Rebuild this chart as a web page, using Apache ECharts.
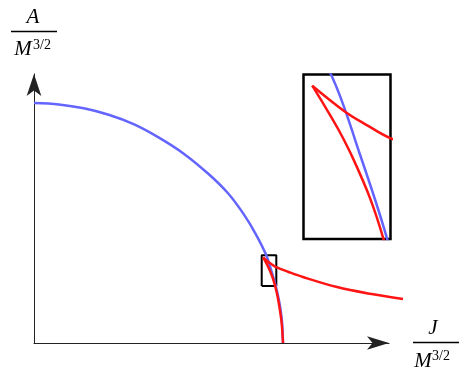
<!DOCTYPE html>
<html>
<head>
<meta charset="utf-8">
<script src="https://cdn.jsdelivr.net/npm/echarts@6/dist/echarts.min.js"></script>
<style>
  html, body { margin: 0; padding: 0; background: #fff; }
  #chart { width: 459px; height: 369px; }
</style>
</head>
<body>
<div id="chart"></div>
<script>
// blue curve (J, A), both in units of M^{3/2}
const blueJ = [0, 0.1, 0.2, 0.3, 0.4, 0.5, 0.6, 0.7, 0.78, 0.84, 0.89, 0.933, 0.9526, 0.9701, 0.983, 0.992, 0.997, 1.0];
const blueA = [1.0, 0.994, 0.978, 0.951, 0.912, 0.857, 0.79, 0.705, 0.623, 0.54, 0.455, 0.3654, 0.303, 0.2405, 0.182, 0.125, 0.075, 0];
// red branch going out to the right
const redOuterJ = [0.9204, 0.9425, 0.9571, 0.9732, 1.02, 1.08, 1.217, 1.349, 1.482];
const redOuterA = [0.3567, 0.3365, 0.3261, 0.3158, 0.297, 0.275, 0.233, 0.205, 0.183];
// red branch going down to the axis
const redInnerJ = [0.9204, 0.9301, 0.9391, 0.948, 0.9593, 0.9683, 0.978, 0.988, 0.995, 1.0];
const redInnerA = [0.3567, 0.3383, 0.3203, 0.2998, 0.2693, 0.2378, 0.195, 0.135, 0.08, 0];
// zoomed window shown in the inset
const zoomJ = [0.9145, 0.9731];
const zoomA = [0.2375, 0.3654];

const pairs = (xs, ys) => xs.map((x, i) => [x, ys[i]]);
const boxPts = [
  [zoomJ[0], zoomA[0]], [zoomJ[1], zoomA[0]], [zoomJ[1], zoomA[1]],
  [zoomJ[0], zoomA[1]], [zoomJ[0], zoomA[0]]
];

const BLUE = "#6464ff";
const RED = "#ff1414";
const serif = "'Liberation Serif', 'DejaVu Serif', serif";

function curve(name, data, color, grid) {
  return {
    name: name,
    type: "line",
    xAxisIndex: grid,
    yAxisIndex: grid,
    data: data,
    smooth: 0.35,
    showSymbol: false,
    lineStyle: { color: color, width: 2.5 },
    silent: true,
  };
}

function label(x, y, text, size, italic, align) {
  return {
    type: "text", x: x, y: y,
    style: {
      text: text, font: (italic ? "italic " : "") + size + "px " + serif,
      fill: "#000", align: align, verticalAlign: "middle",
    },
  };
}

const hiddenAxis = { axisLine: { show: false }, axisTick: { show: false }, axisLabel: { show: false }, splitLine: { show: false } };

const chart = echarts.init(document.getElementById("chart"));
chart.setOption({
  animation: false,
  grid: [
    // visible axes with arrows
    { left: 34, top: 74, width: 355, height: 269 },
    // inset
    {
      left: 303.5, top: 74.5, width: 87, height: 164.5,
      show: true, borderColor: "#000", borderWidth: 2.5, backgroundColor: "#fff",
    },
    // same scale as grid 0, wider so the red branch can run past the arrow
    { left: 34, top: 74, width: 375, height: 269 },
  ],
  xAxis: [
    {
      type: "value", gridIndex: 0, min: 0, max: 1.4257,
      axisLine: { show: true, onZero: false, symbol: ["none", "arrow"], symbolSize: [10, 22], lineStyle: { color: "#222", width: 1 } },
      axisTick: { show: false }, axisLabel: { show: false }, splitLine: { show: false },
    },
    { type: "value", gridIndex: 1, min: zoomJ[0], max: zoomJ[1], show: false },
    Object.assign({ type: "value", gridIndex: 2, min: 0, max: 375 / 249 }, hiddenAxis),
  ],
  yAxis: [
    {
      type: "value", gridIndex: 0, min: 0, max: 1.1208,
      axisLine: { show: true, onZero: false, symbol: ["none", "arrow"], symbolSize: [11, 22], lineStyle: { color: "#222", width: 1 } },
      axisTick: { show: false }, axisLabel: { show: false }, splitLine: { show: false },
    },
    { type: "value", gridIndex: 1, min: zoomA[0], max: zoomA[1], show: false },
    Object.assign({ type: "value", gridIndex: 2, min: 0, max: 1.1208 }, hiddenAxis),
  ],
  series: [
    {
      type: "line", xAxisIndex: 2, yAxisIndex: 2, data: boxPts, showSymbol: false,
      lineStyle: { color: "#000", width: 2 }, silent: true,
    },
    curve("blue", pairs(blueJ, blueA), BLUE, 2),
    curve("redOuter", pairs(redOuterJ, redOuterA), RED, 2),
    curve("redInner", pairs(redInnerJ, redInnerA), RED, 2),
    curve("blueZoom", pairs(blueJ, blueA), BLUE, 1),
    curve("redOuterZoom", pairs(redOuterJ, redOuterA), RED, 1),
    curve("redInnerZoom", pairs(redInnerJ, redInnerA), RED, 1),
  ],
  graphic: [
    // y axis title: A / M^{3/2}
    label(33, 17, "A", 21, true, "center"),
    { type: "line", shape: { x1: 11, y1: 31.5, x2: 57, y2: 31.5 }, style: { stroke: "#000", lineWidth: 1.5 } },
    label(23, 49, "M", 21, true, "center"),
    label(33, 45, "3/2", 14, false, "left"),
    // x axis title: J / M^{3/2}
    label(433, 328, "J", 21, true, "center"),
    { type: "line", shape: { x1: 413, y1: 342.5, x2: 459, y2: 342.5 }, style: { stroke: "#000", lineWidth: 1.5 } },
    label(423, 361, "M", 21, true, "center"),
    label(432, 356, "3/2", 14, false, "left"),
  ],
});
</script>
</body>
</html>
